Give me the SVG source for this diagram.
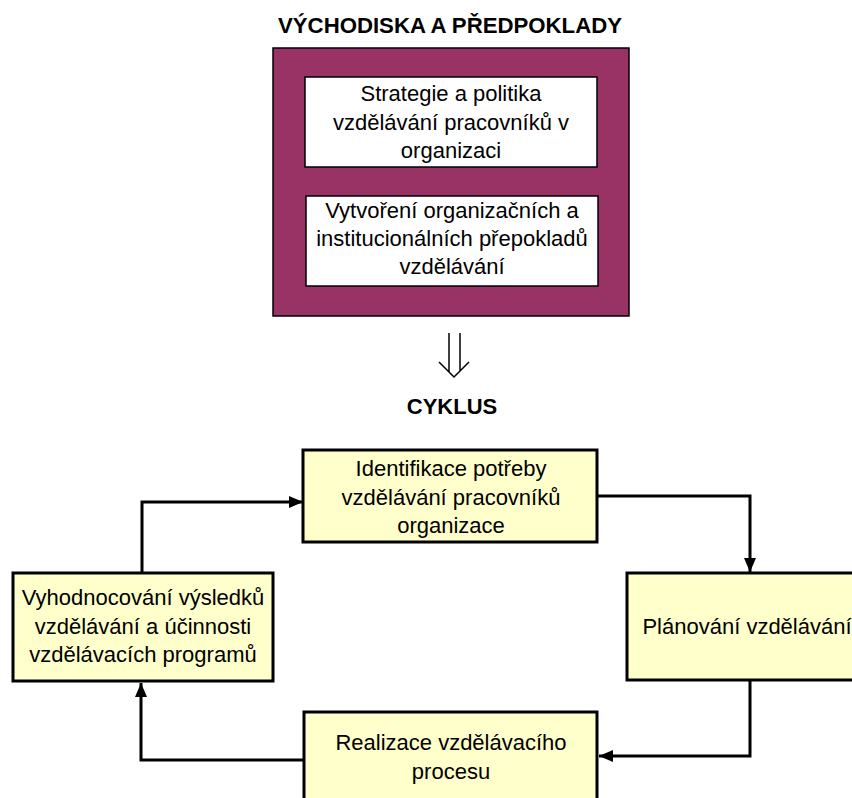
<svg xmlns="http://www.w3.org/2000/svg" width="852" height="798" viewBox="0 0 852 798">
<style>
text{font-family:"Liberation Sans",Arial,sans-serif;font-size:22px;fill:#000;text-anchor:middle}
.h{font-weight:bold}
.box{fill:#FFFFCC;stroke:#000;stroke-width:3}
.wbox{fill:#fff;stroke:#000;stroke-width:1.5}
.con{fill:none;stroke:#000;stroke-width:3;stroke-linejoin:miter}
</style>
<defs>
<marker id="ah" viewBox="0 0 14 12" refX="14" refY="6" markerWidth="14" markerHeight="12" markerUnits="userSpaceOnUse" orient="auto">
<path d="M0 0 L14 6 L0 12 Z" fill="#000"/>
</marker>
</defs>
<rect width="852" height="798" fill="#fff"/>
<text class="h" x="450" y="33" textLength="344" lengthAdjust="spacingAndGlyphs">VÝCHODISKA A PŘEDPOKLADY</text>
<g id="vychodiska">
<rect x="273" y="48" width="356" height="268" fill="#993366" stroke="#000" stroke-width="1.5"/>
</g>
<g id="strategie">
<rect class="wbox" x="305" y="77" width="292" height="90"/>
<text x="451" y="101">Strategie a politika</text>
<text x="451" y="130">vzdělávání pracovníků v</text>
<text x="451" y="158">organizaci</text>
</g>
<g id="vytvoreni">
<rect class="wbox" x="306" y="196" width="292" height="90"/>
<text x="452" y="218">Vytvoření organizačních a</text>
<text x="452" y="246">institucionálních přepokladů</text>
<text x="452" y="274">vzdělávání</text>
</g>
<g id="down-arrow">
<path d="M449 333 V372 M460 333 V371 M439 362 L454 377 L469 362" fill="none" stroke="#000" stroke-width="1.5"/>
</g>
<text class="h" x="452" y="414">CYKLUS</text>
<g id="identifikace">
<rect class="box" x="303" y="450" width="294" height="92"/>
<text x="451" y="476">Identifikace potřeby</text>
<text x="451" y="505">vzdělávání pracovníků</text>
<text x="451" y="533">organizace</text>
</g>
<g id="planovani">
<rect class="box" x="627" y="573" width="240" height="107"/>
<text x="747" y="634">Plánování vzdělávání</text>
</g>
<g id="realizace">
<rect class="box" x="304" y="712" width="293" height="110"/>
<text x="451" y="750">Realizace vzdělávacího</text>
<text x="451" y="779">procesu</text>
</g>
<g id="vyhodnocovani">
<rect class="box" x="13" y="573" width="260" height="108"/>
<text x="143" y="605">Vyhodnocování výsledků</text>
<text x="143" y="634">vzdělávání a účinnosti</text>
<text x="143" y="662">vzdělávacích programů</text>
</g>
<g id="connectors">
<path class="con" d="M597 496 H750 V572" marker-end="url(#ah)"/>
<path class="con" d="M750 680 H750 V756 H599" marker-end="url(#ah)"/>
<path class="con" d="M303 760 H141 V683" marker-end="url(#ah)"/>
<path class="con" d="M142 573 V502 H303" marker-end="url(#ah)"/>
</g>
</svg>
